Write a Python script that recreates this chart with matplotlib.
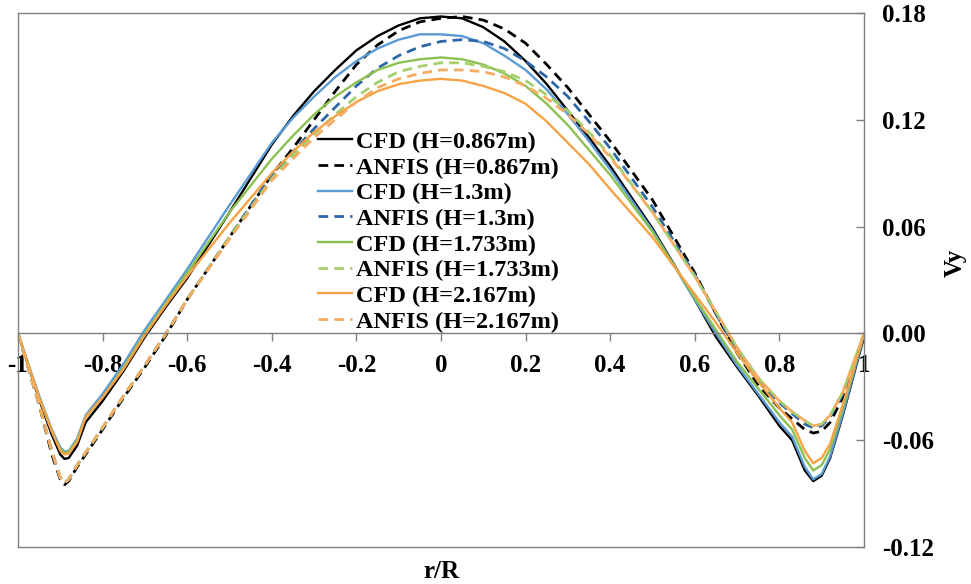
import matplotlib
matplotlib.use("Agg")
import matplotlib.pyplot as plt

# r/R positions shared by every profile
r_R = [-1.0, -0.95, -0.92, -0.9, -0.89, -0.88, -0.86, -0.84, -0.8, -0.75, -0.7, -0.65, -0.6,
       -0.5, -0.4, -0.35, -0.3, -0.25, -0.2, -0.15, -0.1, -0.05, 0.0, 0.05, 0.1, 0.15, 0.2,
       0.25, 0.3, 0.35, 0.4, 0.5, 0.6, 0.65, 0.7, 0.75, 0.8, 0.83, 0.86, 0.88, 0.9, 0.92, 0.95, 1.0]

# Vy
cfd_0867 = [0, -0.037, -0.057, -0.068, -0.0705, -0.070, -0.063, -0.050, -0.038, -0.021, -0.002, 0.015, 0.031,
            0.068, 0.106, 0.122, 0.136, 0.148, 0.159, 0.167, 0.173, 0.177, 0.178, 0.177, 0.172, 0.164, 0.153,
            0.140, 0.125, 0.110, 0.094, 0.059, 0.019, -0.002, -0.019, -0.035, -0.052, -0.060, -0.077, -0.083,
            -0.080, -0.070, -0.046, -0.002]
anfis_0867 = [0, -0.040, -0.068, -0.082, -0.085, -0.083, -0.075, -0.068, -0.054, -0.036, -0.019, -0.001, 0.019,
              0.054, 0.089, 0.104, 0.120, 0.136, 0.151, 0.162, 0.170, 0.175, 0.177, 0.178, 0.176, 0.171, 0.163,
              0.151, 0.138, 0.123, 0.108, 0.075, 0.034, 0.011, -0.011, -0.029, -0.042, -0.048, -0.054, -0.056,
              -0.055, -0.050, -0.036, -0.003]
cfd_13 = [0, -0.035, -0.054, -0.064, -0.0665, -0.066, -0.059, -0.046, -0.034, -0.017, 0.002, 0.019, 0.036,
          0.072, 0.107, 0.121, 0.133, 0.144, 0.153, 0.160, 0.165, 0.168, 0.168, 0.167, 0.163, 0.156, 0.148,
          0.137, 0.123, 0.108, 0.092, 0.058, 0.019, 0.000, -0.018, -0.034, -0.050, -0.058, -0.075, -0.082,
          -0.079, -0.069, -0.045, -0.001]
anfis_13 = [0, -0.040, -0.066, -0.081, -0.084, -0.082, -0.074, -0.067, -0.053, -0.035, -0.018, 0.000, 0.019,
            0.054, 0.089, 0.102, 0.115, 0.127, 0.139, 0.149, 0.156, 0.161, 0.164, 0.165, 0.164, 0.160, 0.153,
            0.144, 0.133, 0.119, 0.104, 0.071, 0.033, 0.011, -0.010, -0.027, -0.039, -0.045, -0.051, -0.053,
            -0.052, -0.047, -0.034, -0.001]
cfd_1733 = [0, -0.036, -0.055, -0.065, -0.067, -0.0665, -0.060, -0.047, -0.036, -0.019, 0.000, 0.017, 0.034,
            0.068, 0.098, 0.111, 0.123, 0.133, 0.141, 0.148, 0.152, 0.154, 0.155, 0.154, 0.151, 0.146, 0.139,
            0.129, 0.117, 0.103, 0.089, 0.057, 0.020, 0.002, -0.016, -0.031, -0.046, -0.054, -0.070, -0.077,
            -0.074, -0.065, -0.042, 0.000]
anfis_1733 = [0, -0.040, -0.066, -0.081, -0.084, -0.082, -0.074, -0.067, -0.053, -0.035, -0.018, 0.000, 0.019,
              0.054, 0.087, 0.100, 0.112, 0.123, 0.133, 0.141, 0.147, 0.150, 0.152, 0.152, 0.150, 0.147, 0.142,
              0.134, 0.125, 0.113, 0.100, 0.068, 0.032, 0.012, -0.008, -0.025, -0.038, -0.044, -0.049, -0.052,
              -0.051, -0.046, -0.033, 0.000]
cfd_2167 = [0, -0.036, -0.055, -0.066, -0.068, -0.0675, -0.061, -0.047, -0.036, -0.020, -0.001, 0.016, 0.032,
            0.062, 0.090, 0.102, 0.113, 0.122, 0.130, 0.136, 0.140, 0.142, 0.143, 0.142, 0.139, 0.135, 0.129,
            0.119, 0.107, 0.095, 0.081, 0.054, 0.022, 0.006, -0.011, -0.027, -0.042, -0.050, -0.066, -0.073,
            -0.070, -0.062, -0.040, 0.000]
anfis_2167 = [0, -0.040, -0.066, -0.081, -0.084, -0.082, -0.074, -0.067, -0.053, -0.035, -0.018, 0.000, 0.019,
              0.053, 0.086, 0.098, 0.110, 0.120, 0.130, 0.138, 0.143, 0.146, 0.148, 0.148, 0.147, 0.144, 0.139,
              0.132, 0.123, 0.112, 0.099, 0.068, 0.032, 0.012, -0.008, -0.025, -0.038, -0.044, -0.049, -0.052,
              -0.051, -0.046, -0.033, 0.000]

x_ticks = [-1, -0.8, -0.6, -0.4, -0.2, 0, 0.2, 0.4, 0.6, 0.8, 1]
x_ticklabels = ["-1", "-0.8", "-0.6", "-0.4", "-0.2", "0", "0.2", "0.4", "0.6", "0.8", "1"]
y_ticks = [-0.12, -0.06, 0.0, 0.06, 0.12, 0.18]

plt.rcParams["font.family"] = ["Liberation Serif", "DejaVu Serif"]
plt.rcParams["font.weight"] = "bold"

fig = plt.figure(figsize=(9.71, 5.84), dpi=100)
ax = fig.add_axes([0.0185, 0.0634, 0.8713, 0.9144])

dash = (0, (3.5, 2.2))
series = [
    (cfd_0867, "#000000", "-", "CFD (H=0.867m)"),
    (anfis_0867, "#000000", dash, "ANFIS (H=0.867m)"),
    (cfd_13, "#5b9bd5", "-", "CFD (H=1.3m)"),
    (anfis_13, "#2e67a8", dash, "ANFIS (H=1.3m)"),
    (cfd_1733, "#8cc152", "-", "CFD (H=1.733m)"),
    (anfis_1733, "#a5cf6c", dash, "ANFIS (H=1.733m)"),
    (cfd_2167, "#f7a245", "-", "CFD (H=2.167m)"),
    (anfis_2167, "#f5ad62", dash, "ANFIS (H=2.167m)"),
]
for vals, col, ls, lab in series:
    lw = 1.7 if ls == "-" else 2.0
    ax.plot(r_R, vals, color=col, linestyle=ls, linewidth=lw, label=lab)

ax.set_xlim(-1, 1)
ax.set_ylim(-0.12, 0.18)

frame_col = "#808080"
for s in ["top", "left", "right", "bottom"]:
    ax.spines[s].set_color(frame_col)
    ax.spines[s].set_linewidth(1.0)
# x axis runs along Vy = 0, box closed by a line at the bottom
ax.spines["bottom"].set_position(("data", 0))
ax.axhline(-0.12, color=frame_col, linewidth=1.0, clip_on=False)

ax.set_xticks(x_ticks)
ax.set_xticklabels(x_ticklabels)
ax.set_yticks(y_ticks)
ax.set_yticklabels(["%.2f" % v for v in y_ticks])
ax.yaxis.tick_right()
ax.tick_params(axis="x", direction="out", length=6, width=1, color=frame_col, labelsize=18, pad=9)
ax.tick_params(axis="y", direction="in", length=6, width=1, color=frame_col, labelsize=18, pad=13)

ax.set_xlabel("r/R", fontsize=18, fontweight="bold")
ax.xaxis.set_label_coords(0.5, -0.025)
ax.text(1.1076, 0.532, "Vy", transform=ax.transAxes, rotation=90, fontsize=18,
        fontweight="bold", ha="center", va="center")

ax.legend(loc="upper left", bbox_to_anchor=(0.3546, 0.779), frameon=False,
          prop={"family": "Liberation Serif", "weight": "bold", "size": 17.5},
          handlelength=1.4, handletextpad=0.15, labelspacing=0.15,
          borderpad=0, borderaxespad=0)

fig.savefig("out.png", dpi=100)
